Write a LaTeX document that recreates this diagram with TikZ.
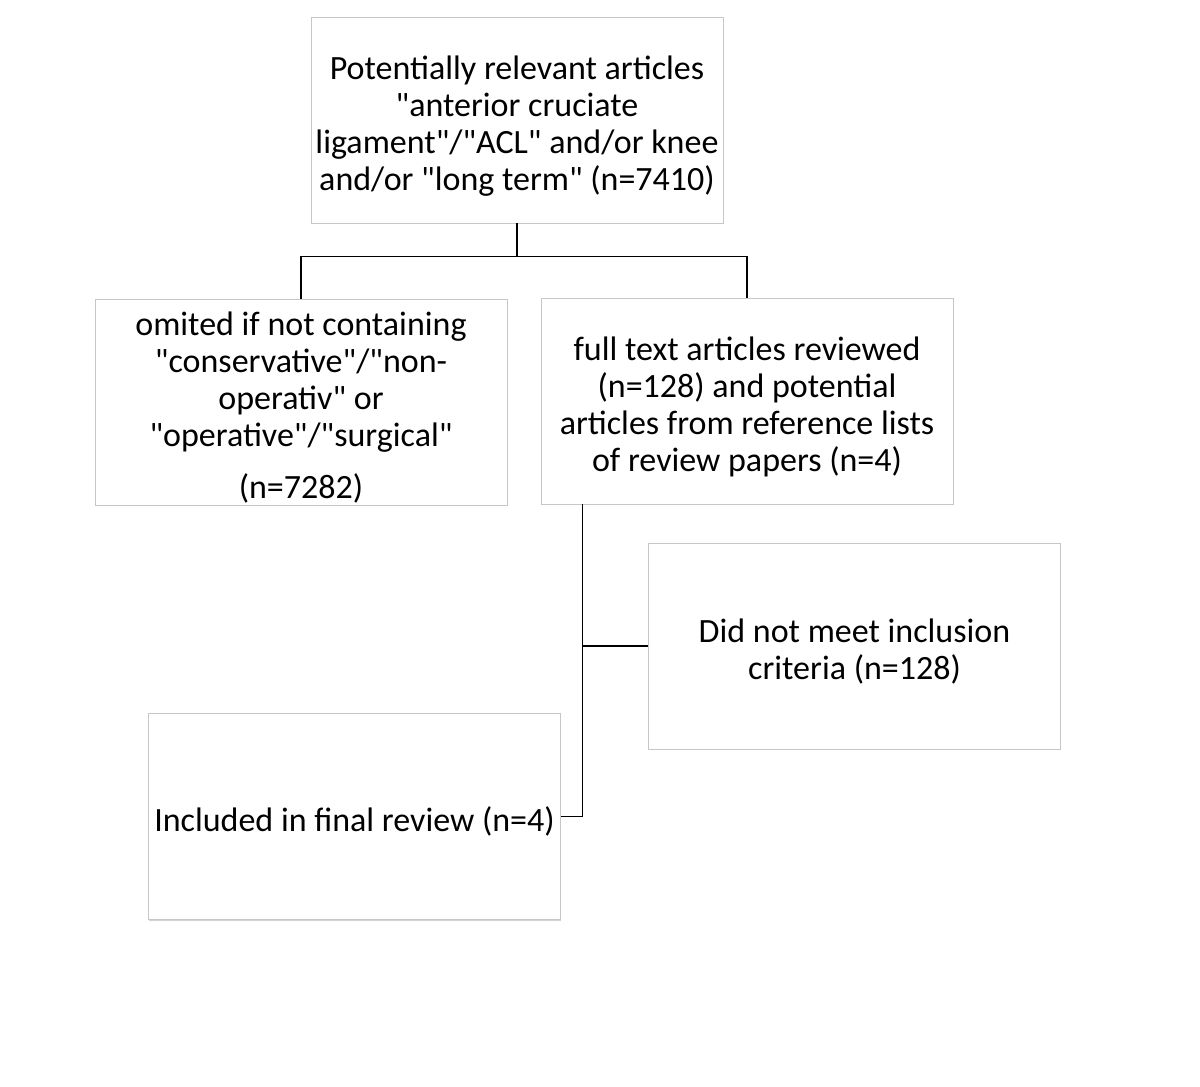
\documentclass[tikz,border=0pt]{standalone}
\usepackage{fontspec}
\setmainfont{Carlito}[Ligatures=TeXOff]
\usepackage{tikz}
\usetikzlibrary{positioning}
\usetikzlibrary{shadows}
\definecolor{boxline}{rgb}{0.78,0.78,0.78}
\newcommand{\lift}{\rule{0pt}{35pt}} % push text down a bit

\begin{document}
\begin{tikzpicture}[
            line width = 1.2pt, % connector style
            font = \fontsize{34pt}{37pt}\selectfont
        ]

        \tikzstyle{box}=[
            draw = boxline,
            line width = 0.8pt,
            fill = white,
            drop shadow = {shadow xshift=0pt, shadow yshift=-1.2pt, opacity=.35},
            minimum width = 412pt,
            minimum height = 206pt,
            align = center,
            inner sep = 0pt
        ]

        \useasboundingbox (0,0) rectangle (1200pt,-1087pt);

	% search
        \node[box] (search) at (517pt,-120pt) {\lift Potentially relevant articles\\"anterior cruciate\\ligament"/"ACL" and/or knee\\and/or "long term" (n=7410)};

        % first split
        \node[box] (omit) [below of = search, node distance = 282pt, xshift = -216pt] {\lift omited if not containing\\"conservative"/"non-\\operativ" or\\"operative"/"surgical"\\[15pt](n=7282)};
        \node[box] (full) [below of = search, node distance = 281pt, xshift = 230pt] {\lift full text articles reviewed\\(n=128) and potential\\articles from reference lists\\of review papers (n=4)};

        \draw (search.south) -- ++(0,-33pt) -| (omit.north);
        \draw (search.south) -- ++(0,-33pt) -| (full.north);

        % second split
        \node[box] (excl) [below of = full, node distance = 245pt, xshift = 107.5pt] {\lift Did not meet inclusion\\criteria (n=128)};
        \node[box] (incl) [below of = omit, node distance = 414.5pt, xshift = 53.5pt] {\lift Included in final review (n=4)};

        \coordinate (trunk) at ([xshift=42pt]full.south west);
        \draw (trunk) |- (incl.east);
        \draw (excl.west) -- (excl.west -| trunk);

\end{tikzpicture}
\end{document}
